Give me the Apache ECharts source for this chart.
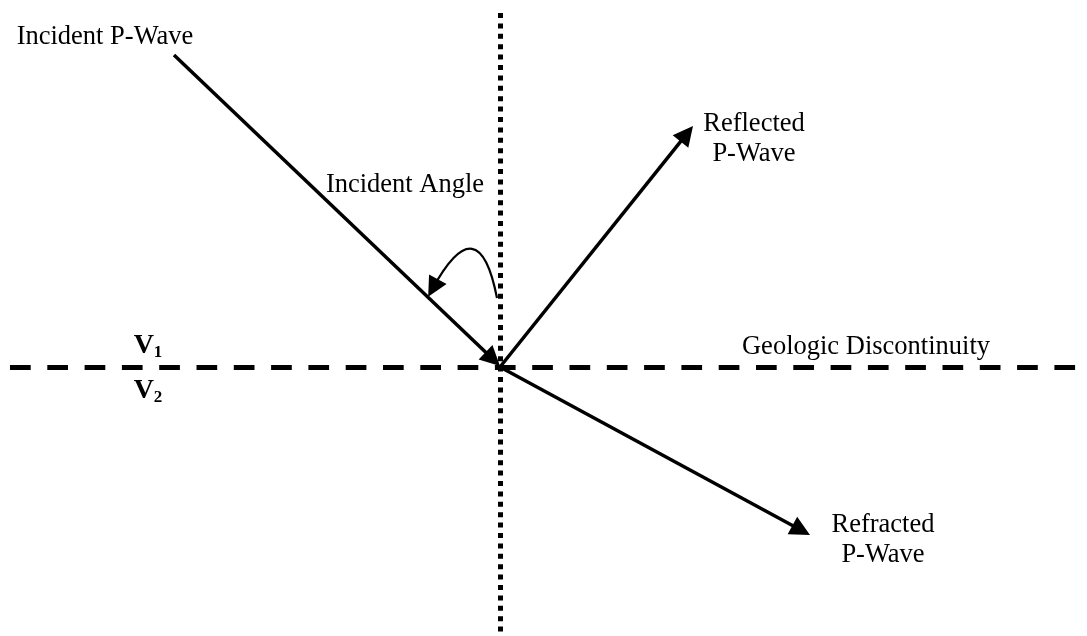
<!DOCTYPE html>
<html>
<head>
<meta charset="utf-8">
<script src="https://cdn.jsdelivr.net/npm/echarts@6/dist/echarts.min.js"></script>
<style>html,body{margin:0;padding:0;background:#fff}#c{width:1087px;height:636px}</style>
</head>
<body>
<div id="c"></div>
<script>
// Diagram space (same units as the 1087x636 canvas)
var extentX = [0, 1087];
var extentY = [0, 636];

// Reference lines
var interfaceLine = [[10, 367], [1087, 367]];     // geologic discontinuity (dashed)
var normalLine = [[500.5, 13], [500.5, 636]];      // normal (dotted)

// Rays: [start, arrow tip]
var incidentRay = [[174, 55], [500, 366]];
var reflectedRay = [[500, 367], [693, 126]];
var refractedRay = [[500, 367], [810, 535]];

// Angle arc: start and arrow-head centre
var angleArc = [[497, 298], [433, 288]];
var arcCurveness = -1.38;

// Labels
var labelTexts = ['Incident P-Wave', 'Incident Angle', 'Reflected\nP-Wave', 'Geologic Discontinuity', 'Refracted\nP-Wave'];
var labelPos = [[105, 37], [405, 185], [754, 139], [866, 347], [883, 540]];
var layerTexts = ['{v|V}{s|1}', '{v|V}{s|2}'];
var layerPos = [[148, 346], [148, 391]];

var HEAD_LEN = 20, HEAD_W = 16;
function shaft(ray) {
  var a = ray[0], b = ray[1];
  var dx = b[0] - a[0], dy = b[1] - a[1];
  var L = Math.sqrt(dx * dx + dy * dy);
  var h = HEAD_LEN / 2;
  return [a, [b[0] - dx / L * h, b[1] - dy / L * h]];
}

var chart = echarts.init(document.getElementById('c'));
var font = 'Liberation Serif, Times New Roman, serif';
chart.setOption({
  backgroundColor: '#fff',
  animation: false,
  grid: {left: 0, right: 0, top: 0, bottom: 0},
  xAxis: {type: 'value', min: extentX[0], max: extentX[1], show: false},
  yAxis: {type: 'value', min: extentY[0], max: extentY[1], inverse: true, show: false},
  series: [
    {
      type: 'lines', coordinateSystem: 'cartesian2d', symbol: 'none', silent: true,
      lineStyle: {color: '#000', width: 5, type: [20.7, 16.6], cap: 'butt', opacity: 1},
      data: [{coords: interfaceLine}]
    },
    {
      type: 'lines', coordinateSystem: 'cartesian2d', symbol: 'none', silent: true,
      lineStyle: {color: '#000', width: 5, type: [5, 5.4], cap: 'butt', opacity: 1},
      data: [{coords: normalLine}]
    },
    {
      type: 'lines', coordinateSystem: 'cartesian2d', silent: true,
      symbol: ['none', 'triangle'], symbolSize: [HEAD_W, HEAD_LEN],
      lineStyle: {color: '#000', width: 3.5, opacity: 1},
      itemStyle: {color: '#000', opacity: 1},
      data: [{coords: shaft(incidentRay)}, {coords: shaft(reflectedRay)}, {coords: shaft(refractedRay)}]
    },
    {
      type: 'lines', coordinateSystem: 'cartesian2d', silent: true,
      symbol: ['none', 'triangle'], symbolSize: [HEAD_W, HEAD_LEN],
      lineStyle: {color: '#000', width: 2.2, opacity: 1, curveness: arcCurveness},
      itemStyle: {color: '#000', opacity: 1},
      data: [{coords: angleArc}]
    },
    {
      type: 'scatter', symbolSize: 1, itemStyle: {color: '#fff', opacity: 1}, silent: true,
      label: {show: true, position: 'inside', formatter: function (p) { return labelTexts[p.dataIndex]; },
        color: '#000', opacity: 1, fontFamily: font, fontSize: 26.5, lineHeight: 30, align: 'center', verticalAlign: 'middle'},
      data: labelPos
    },
    {
      type: 'scatter', symbolSize: 1, itemStyle: {color: '#fff', opacity: 1}, silent: true,
      label: {show: true, position: 'inside', formatter: function (p) { return layerTexts[p.dataIndex]; },
        color: '#000', opacity: 1, align: 'center', verticalAlign: 'middle',
        rich: {
          v: {fontFamily: font, fontSize: 28, fontWeight: 'bold', lineHeight: 30, color: '#000'},
          s: {fontFamily: font, fontSize: 17, fontWeight: 'bold', lineHeight: 12, verticalAlign: 'bottom', color: '#000'}
        }},
      data: layerPos
    }
  ]
});
</script>
</body>
</html>
